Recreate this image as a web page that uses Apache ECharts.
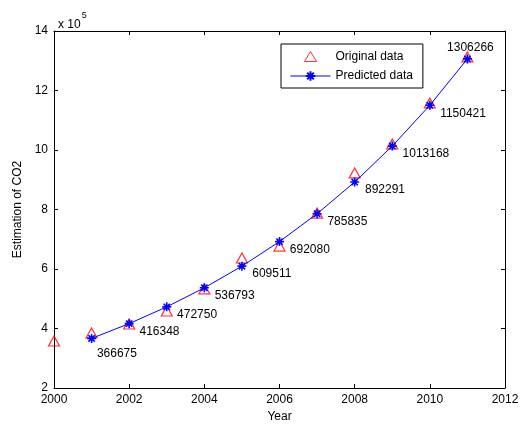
<!DOCTYPE html>
<html>
<head>
<meta charset="utf-8">
<script src="https://cdn.jsdelivr.net/npm/echarts@6/dist/echarts.min.js"></script>
<style>
html,body{margin:0;padding:0;background:#fff;}
#chart{width:526px;height:429px;}
</style>
</head>
<body>
<div id="chart"></div>
<script>
// ---- data ----
var originalYears = [2000, 2001, 2002, 2003, 2004, 2005, 2006, 2007, 2008, 2009, 2010, 2011];
var originalValues = [358000, 385000, 415000, 459000, 533000, 637000, 677000, 788000, 923000, 1020000, 1158000, 1313000];
var predictedYears = [2001, 2002, 2003, 2004, 2005, 2006, 2007, 2008, 2009, 2010, 2011];
var predictedValues = [366675, 416348, 472750, 536793, 609511, 692080, 785835, 892291, 1013168, 1150421, 1306266];
var xTicks = [2000, 2002, 2004, 2006, 2008, 2010, 2012];
var yTicks = [2, 4, 6, 8, 10, 12, 14]; // x 10^5

var FONT = 'Liberation Sans, Arial, sans-serif';
var chart = echarts.init(document.getElementById('chart'), null, {renderer: 'canvas'});

var origData = originalYears.map(function (y, i) { return [y, originalValues[i]]; });
var predData = predictedYears.map(function (y, i) {
  var item = {value: [y, predictedValues[i]], label: {}};
  if (i === 0) { item.label = {position: 'right', offset: [-5, 15]}; }
  else if (i === predictedYears.length - 1) { item.label = {position: 'top', offset: [3, 5]}; }
  return item;
});

var starPath = 'path://M0,-6L0,6M-6,0L6,0M-4.2,-4.2L4.2,4.2M-4.2,4.2L4.2,-4.2';
var legendTriangle = 'path://M0,0M40,12M14,11L20,1L26,11Z';

var axisCommon = {
  axisLine: {show: true, onZero: false, lineStyle: {color: '#000', width: 1}},
  axisTick: {show: true, inside: true, length: 4, lineStyle: {color: '#000'}},
  splitLine: {show: false}
};

chart.setOption({
  animation: false,
  backgroundColor: '#fff',
  textStyle: {fontFamily: FONT},
  title: {
    text: '{a|x 10}{b|5}',
    left: 53, top: 6,
    textStyle: {
      fontWeight: 'normal',
      rich: {
        a: {fontSize: 12, color: '#000', fontWeight: 'normal', fontFamily: FONT, padding: [8, 0, 0, 0]},
        b: {fontSize: 9, color: '#000', fontWeight: 'normal', fontFamily: FONT, verticalAlign: 'top', padding: [0, 0, 8, 1]}
      }
    }
  },
  grid: {left: 54, right: 21, top: 31, bottom: 41},
  legend: {
    left: 281, top: 44,
    orient: 'vertical',
    borderColor: '#000', borderWidth: 1,
    padding: [6, 10, 6, 9],
    itemWidth: 40, itemHeight: 12, itemGap: 7,
    lineStyle: {width: 1},
    textStyle: {fontSize: 12, color: '#000', fontFamily: FONT, padding: [0, 0, 0, 0]},
    data: [
      {name: 'Original data', icon: legendTriangle, itemStyle: {borderWidth: 1}},
      {name: 'Predicted data'}
    ]
  },
  xAxis: [
    Object.assign({
      type: 'value', min: 2000, max: 2012, interval: 2,
      name: 'Year', nameLocation: 'middle', nameGap: 22,
      nameTextStyle: {fontSize: 12, color: '#000', fontFamily: FONT},
      axisLabel: {fontSize: 12, color: '#000', margin: 6, fontFamily: FONT,
        formatter: function (v) { return String(v); }}
    }, axisCommon),
    Object.assign({
      type: 'value', min: 2000, max: 2012, interval: 2, position: 'top',
      axisLabel: {show: false}
    }, axisCommon)
  ],
  yAxis: [
    Object.assign({
      type: 'value', min: 200000, max: 1400000, interval: 200000,
      name: 'Estimation of CO2', nameLocation: 'middle', nameGap: 29,
      nameTextStyle: {fontSize: 12, color: '#000', fontFamily: FONT},
      axisLabel: {fontSize: 12, color: '#000', margin: 6, fontFamily: FONT,
        formatter: function (v) { return String(Math.round(v / 100000)); }}
    }, axisCommon),
    Object.assign({
      type: 'value', min: 200000, max: 1400000, interval: 200000, position: 'right',
      axisLabel: {show: false}
    }, axisCommon)
  ],
  series: [
    {
      name: 'Original data',
      type: 'scatter',
      symbol: 'triangle',
      symbolSize: [11, 10],
      itemStyle: {color: 'rgba(255,255,255,0)', borderColor: '#ff0000', borderWidth: 1.2},
      data: origData,
      z: 2
    },
    {
      name: 'Predicted data',
      type: 'line',
      symbol: starPath,
      symbolSize: 9,
      showAllSymbol: true,
      lineStyle: {color: '#0000ff', width: 1},
      itemStyle: {color: '#0000ff', borderColor: '#0000ff', borderWidth: 1.6},
      label: {
        show: true, position: 'right', offset: [0, 8],
        fontSize: 12, color: '#000', fontFamily: FONT,
        formatter: function (p) { return String(p.value[1]); }
      },
      data: predData,
      z: 3
    }
  ]
});
</script>
</body>
</html>
